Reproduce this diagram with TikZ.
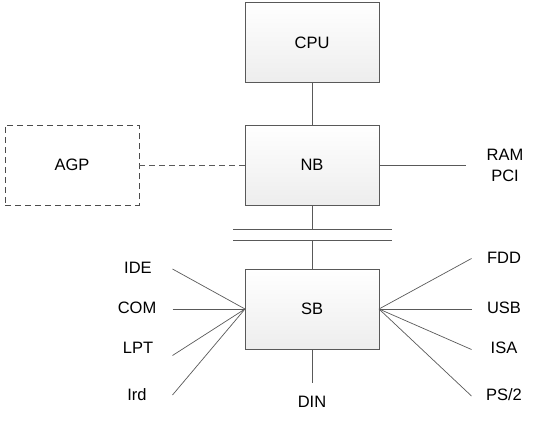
\documentclass[tikz,border=0pt]{standalone}
\usepackage{fontspec}
\setmainfont{Liberation Sans}
\begin{document}
\begin{tikzpicture}[x=1pt,y=-1pt,
  box/.style={draw=black!65,line width=0.8pt,top color=white,bottom color=black!7,minimum width=134pt,minimum height=80pt,inner sep=0pt,font=\fontsize{16.5}{20}\selectfont},
  dbox/.style={draw=black!70,dashed,dash pattern=on 6pt off 4pt,line width=0.8pt,minimum width=134pt,minimum height=80pt,inner sep=0pt,font=\fontsize{16.5}{20}\selectfont},
  lab/.style={inner sep=0pt,font=\fontsize{16.5}{20}\selectfont},
  ln/.style={draw=black!65,line width=0.7pt}]
\useasboundingbox (0,0) rectangle (556,425);
\node[box] (cpu) at (312,42.5) {CPU};
\node[box] (nb) at (312,165) {NB};
\node[box] (sb) at (312,309) {SB};
\node[dbox] (agp) at (72,165) {AGP};
\coordinate (b1l) at (233,229.5);
\coordinate (b1r) at (392,229.5);
\coordinate (b2l) at (233,240.5);
\coordinate (b2r) at (392,240.5);
\coordinate (b1) at (312,229.5);
\coordinate (b2) at (312,240.5);
\coordinate (sl) at (245,309);
\coordinate (sr) at (379,309);
\draw[ln] (cpu.south) -- (nb.north);
\draw[ln] (nb.south) -- (b1);
\draw[ln] (b2) -- (sb.north);
\draw[ln] (b1l) -- (b1r);
\draw[ln] (b2l) -- (b2r);
\draw[ln,dashed,dash pattern=on 6pt off 4pt] (agp.east) -- (nb.west);
\coordinate (ramend) at (466,165);
\draw[ln] (nb.east) -- (ramend);
\node[lab] (ram) at (505,155) {RAM};
\node[lab] (pci) at (505,176) {PCI};
% left
\coordinate (ideE) at (172.5,269);
\coordinate (comE) at (172.5,309);
\coordinate (lptE) at (172.5,355.5);
\coordinate (irdE) at (172.5,395);
\draw[ln] (ideE) -- (sl);
\draw[ln] (comE) -- (sl);
\draw[ln] (lptE) -- (sl);
\draw[ln] (irdE) -- (sl);
\node[lab] (ide) at (138,268) {IDE};
\node[lab] (com) at (137,308) {COM};
\node[lab] (lpt) at (138,348) {LPT};
\node[lab] (ird) at (137,395) {Ird};
% right
\coordinate (fddE) at (471.5,258.5);
\coordinate (usbE) at (471.5,309);
\coordinate (isaE) at (471.5,349.5);
\coordinate (psE) at (471.5,396);
\draw[ln] (fddE) -- (sr);
\draw[ln] (usbE) -- (sr);
\draw[ln] (isaE) -- (sr);
\draw[ln] (psE) -- (sr);
\node[lab] (fdd) at (504,258) {FDD};
\node[lab] (usb) at (504,308) {USB};
\node[lab] (isa) at (504,348) {ISA};
\node[lab] (ps) at (504,395) {PS/2};
% bottom
\coordinate (dinE) at (312,382.5);
\draw[ln] (sb.south) -- (dinE);
\node[lab] (din) at (312,402) {DIN};
\end{tikzpicture}
\end{document}
